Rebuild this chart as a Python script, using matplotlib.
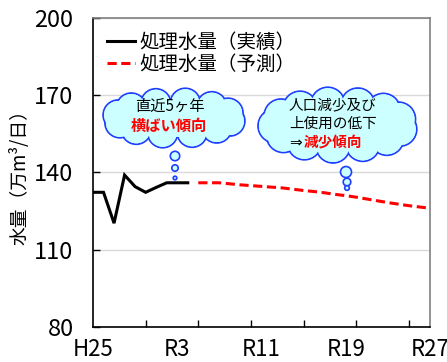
import matplotlib

matplotlib.use("Agg")
import matplotlib.pyplot as plt
from matplotlib.patches import Circle, Ellipse
import numpy as np

plt.rcParams["font.family"] = ["Noto Sans CJK JP", "DejaVu Sans"]

# 実績（H25〜R4）
years_actual = [2013, 2014, 2015, 2016, 2017, 2018, 2019, 2020, 2021, 2022]
flow_actual = [132.3, 132.3, 120.3, 139.0, 134.5, 132.3, 134.2, 136.0, 136.0, 136.0]

# 予測（R5〜R27）
years_forecast = list(range(2023, 2046))
flow_forecast = [136.0, 136.0, 136.0, 135.6, 135.2, 134.9, 134.6, 134.3, 134.0,
                 133.5, 133.0, 132.6, 132.1, 131.5, 131.0, 130.4, 129.7, 129.0,
                 128.3, 127.7, 127.1, 126.6, 126.1]

label_years = [2013, 2021, 2029, 2037, 2045]
label_names = ["H25", "R3", "R11", "R19", "R27"]
minor_years = [2018, 2023, 2028, 2033, 2038, 2043]
y_ticks = [80, 110, 140, 170, 200]

BLUE = "#1f3fff"
CYAN = "#ccffff"


def cloud(ax, cx, cy, a, b, n=12, r=16):
    """雲形の吹き出し（円の重ね合わせ）"""
    t = np.linspace(0, 2 * np.pi, n, endpoint=False) + 0.2
    shapes = [(cx + (a - r) * np.cos(tt), cy + (b - r) * np.sin(tt), r) for tt in t]
    for x, y, rr in shapes:
        ax.add_patch(Circle((x, y), rr, fc=CYAN, ec=BLUE, lw=1.3, zorder=1))
    ax.add_patch(Ellipse((cx, cy), 2 * (a - r), 2 * (b - r) + 8, fc=CYAN, ec="none", zorder=2))
    for x, y, rr in shapes:
        ax.add_patch(Circle((x, y), rr - 0.9, fc=CYAN, ec="none", zorder=2))


def bubbles(ax, pts):
    for x, y, rr in pts:
        ax.add_patch(Circle((x, y), rr, fc=CYAN, ec=BLUE, lw=1.2, zorder=2))


fig = plt.figure(figsize=(4.47, 3.62), dpi=100)
ax = fig.add_axes([0.208, 0.097, 0.754, 0.853])

ax.plot(years_actual, flow_actual, color="black", lw=2.2, label="処理水量（実績）",
        solid_joinstyle="miter")
ax.plot(years_forecast, flow_forecast, color="#ff0000", lw=2.2, dashes=(3, 1.5),
        label="処理水量（予測）")

ax.set_xlim(2013, 2045)
ax.set_ylim(80, 200)
ax.set_yticks(y_ticks)
ax.set_xticks(label_years)
ax.set_xticklabels(label_names)
ax.set_xticks(minor_years, minor=True)
ax.tick_params(axis="x", which="major", length=0, pad=8, labelsize=16)
ax.tick_params(axis="x", which="minor", direction="in", length=5, width=1)
ax.tick_params(axis="y", direction="in", length=5, width=1, pad=14, labelsize=17)
ax.grid(axis="y", color="#d9d9d9", lw=1)
ax.set_axisbelow(True)

for side in ["top", "right"]:
    ax.spines[side].set_color("#808080")
    ax.spines[side].set_linewidth(1.2)
for side in ["left", "bottom"]:
    ax.spines[side].set_color("black")
    ax.spines[side].set_linewidth(1.2)

ax.set_ylabel("水量（万m³/日）", fontsize=13.5)
ax.yaxis.set_label_coords(-0.185, 0.5)

ax.legend(loc="upper left", bbox_to_anchor=(0.0, 1.0), frameon=False,
          fontsize=14, handlelength=1.45, handletextpad=0.25, labelspacing=0.05,
          borderaxespad=0.3)

# 吹き出し（ピクセル座標のオーバーレイ）
deco = fig.add_axes([0, 0, 1, 1])
deco.set_xlim(0, 447)
deco.set_ylim(362, 0)
deco.axis("off")
deco.patch.set_alpha(0)

cloud(deco, 174, 118, 72, 30, n=12, r=15)
bubbles(deco, [(175, 156, 4.7), (175, 168, 3.2), (175, 178, 1.8)])
deco.text(170, 106, "直近5ヶ年", ha="center", va="center", fontsize=11, zorder=3)
deco.text(169, 126, "横ばい傾向", ha="center", va="center", fontsize=11,
          color="#ff0000", fontweight="bold", zorder=3)

cloud(deco, 338, 125, 80, 38, n=13, r=17)
bubbles(deco, [(346, 172, 5.5), (347, 182, 3.8), (347, 188, 2.3)])
deco.text(289, 105, "人口減少及び", ha="left", va="center", fontsize=10.5, zorder=3)
deco.text(289, 124, "上使用の低下", ha="left", va="center", fontsize=10.5, zorder=3)
deco.text(289, 143, "⇒", ha="left", va="center", fontsize=11, zorder=3,
          family=["DejaVu Sans"])
deco.text(304, 143, "減少傾向", ha="left", va="center", fontsize=10.5,
          color="#ff0000", fontweight="bold", zorder=3)

fig.savefig("out.png", dpi=100)
